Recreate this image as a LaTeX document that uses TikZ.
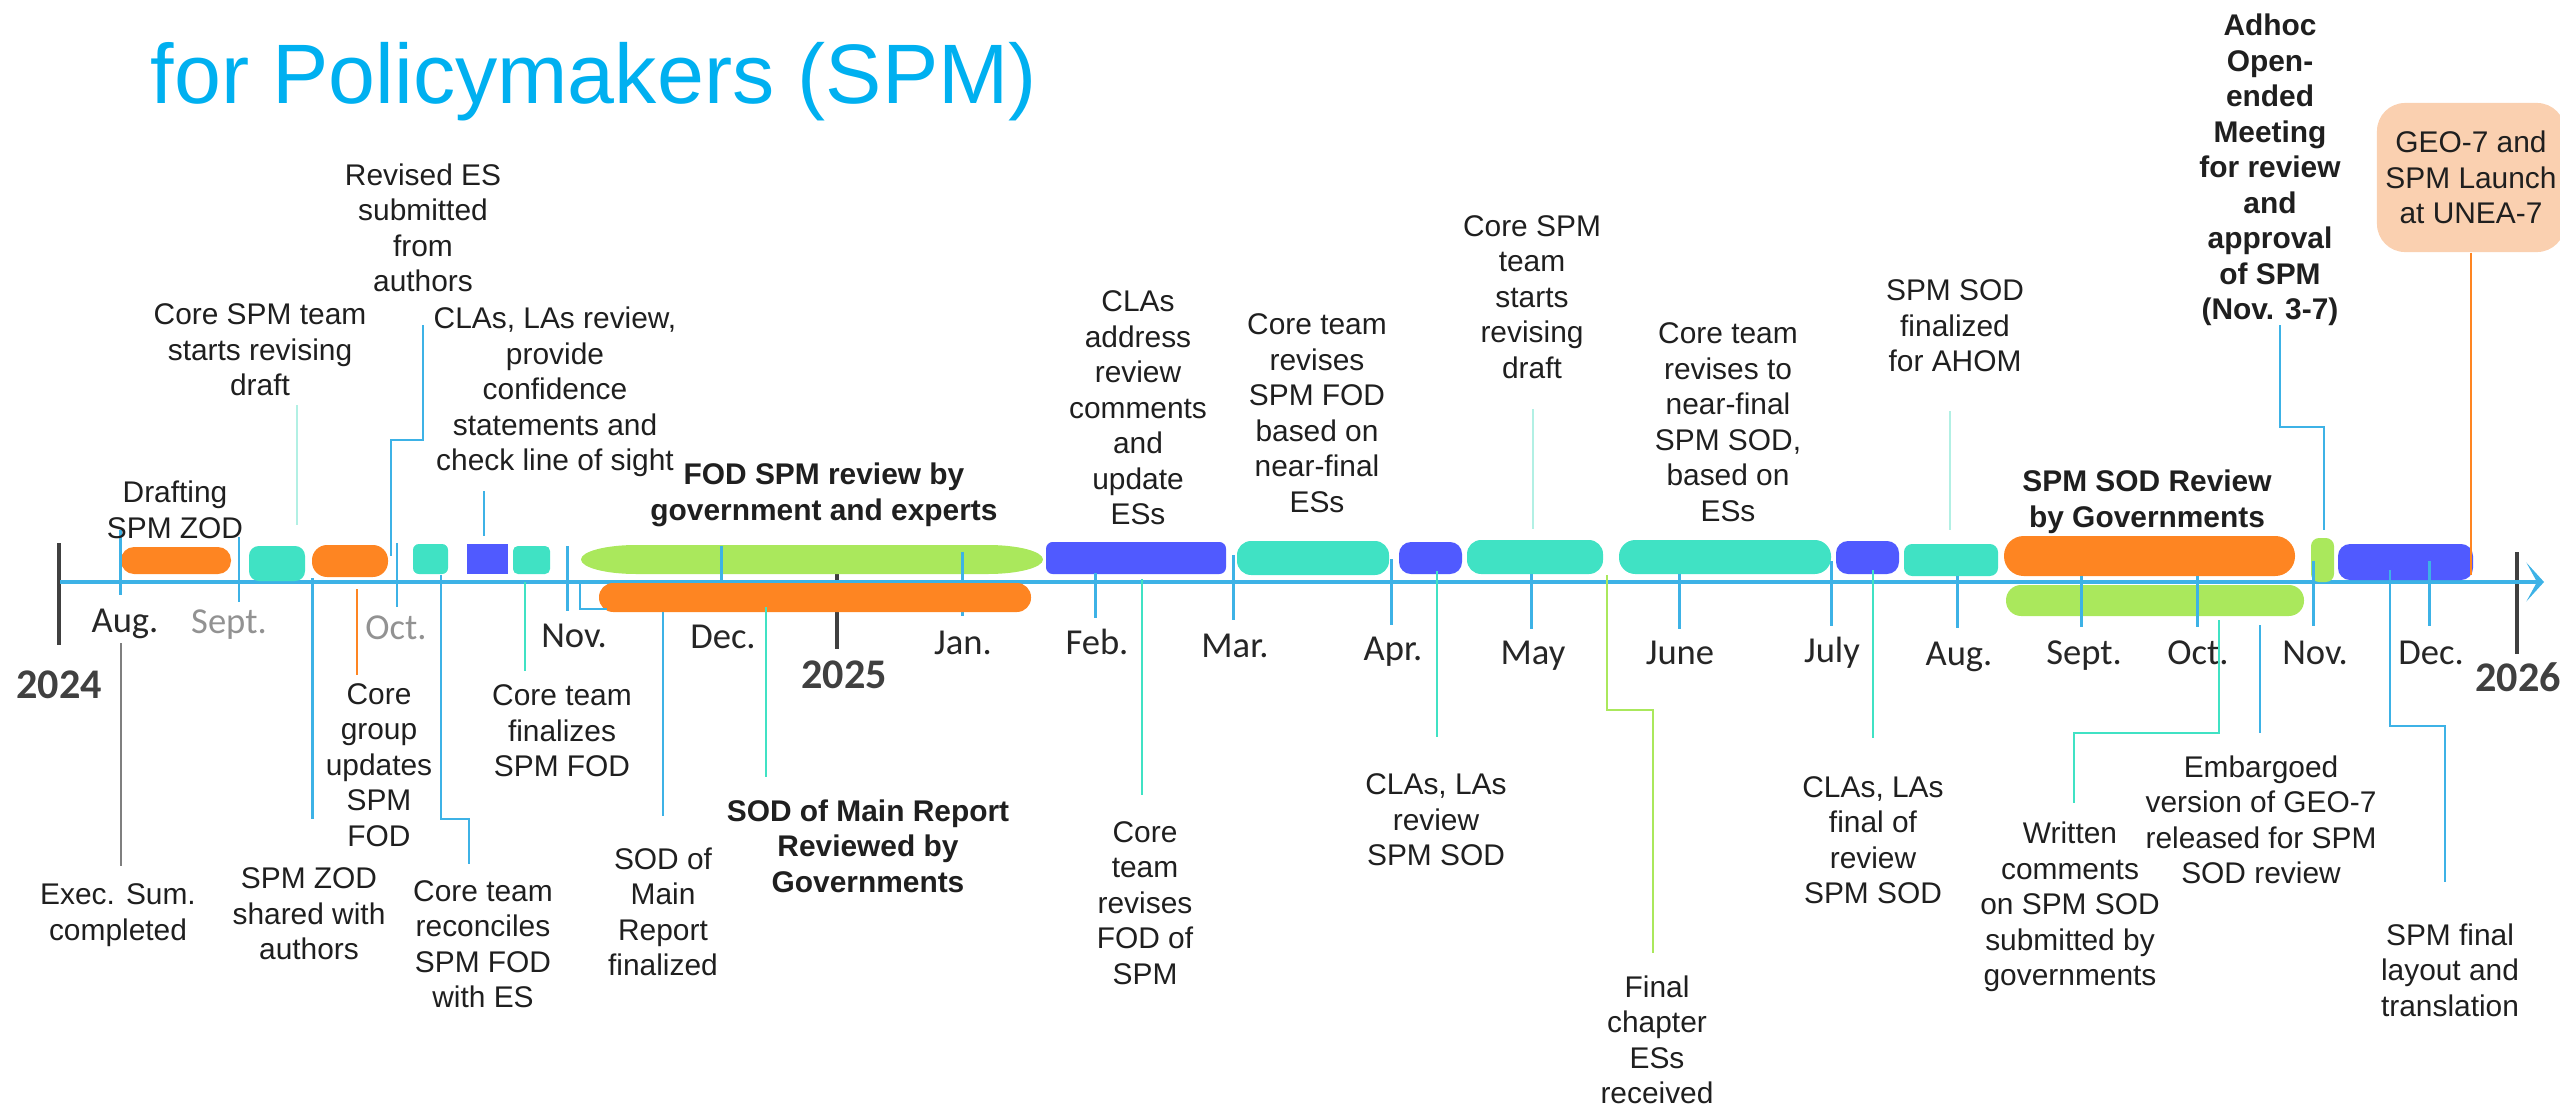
\documentclass[tikz,border=0pt]{standalone}
\usepackage{fontspec}
\setmainfont{Liberation Sans}
\newfontfamily\calfont{Carlito}
\usetikzlibrary{arrows.meta, positioning}

\definecolor{tlblue}{RGB}{61,178,230}
\definecolor{titleblue}{RGB}{0,176,240}
\definecolor{barteal}{RGB}{64,226,196}
\definecolor{lightteal}{RGB}{178,240,228}
\definecolor{barorange}{RGB}{254,133,34}
\definecolor{barblue}{RGB}{80,90,255}
\definecolor{bargreen}{RGB}{170,232,92}
\definecolor{yeargrey}{RGB}{64,64,64}
\definecolor{monthgrey}{RGB}{127,127,127}
\definecolor{geopeach}{RGB}{250,208,176}

\tikzset{
  lbl/.style={align=center, inner sep=0pt, text=black!88, font=\fontsize{8.5}{10.1}\selectfont},
  blbl/.style={lbl, font=\fontsize{8.5}{10.1}\selectfont\bfseries},
  month/.style={anchor=base, inner sep=0pt, font=\calfont\fontsize{10.4}{12}\selectfont},
  year/.style={inner sep=0pt, text=yeargrey, font=\calfont\bfseries\fontsize{12}{14}\selectfont},
  tick/.style={tlblue, line width=0.85pt},
  conn/.style={line width=0.75pt},
}

\begin{document}
\begin{tikzpicture}[x=0.01cm, y=-0.01cm]
  \newcommand\axisy{582} % all coordinates in pixels of the slide
  \useasboundingbox (0,0) rectangle (2560,1112);

  \node[anchor=base west, inner sep=0pt, text=titleblue, font=\fontsize{24}{28}\selectfont] (title) at (150,103) {for Policymakers (SPM)};

  % years
  \foreach \x/\ya/\yb in {59/543/645, 837/573/649, 2517/552/654}
    \draw[yeargrey, line width=0.9pt] (\x,\ya) -- (\x,\yb);

  \draw[tlblue, line width=1.1pt, -{Stealth[length=5pt, width=11pt, inset=3pt]}] (60,\axisy) coordinate (axstart) -- (2544,\axisy) coordinate (axend);

  % bars on the line
  \foreach \xa/\xb/\ya/\yb/\col/\rad in {
      121/231/547/574/barorange/3.7pt, 249/305/546/581/barteal/2.8pt,
      312/388/545/577/barorange/4.3pt, 413/448/544/574/barteal/1.7pt,
      467/508/544/574/barblue/0pt, 513/550/546/574/barteal/1.4pt,
      1046/1226/542/574/barblue/1.9pt, 1237/1389/541/575/barteal/4pt,
      1399/1462/542/574/barblue/3.4pt, 1467/1603/540/574/barteal/4pt,
      1619/1831/540/574/barteal/4.6pt, 1836/1899/541/574/barblue/3.4pt,
      1904/1998/544/576/barteal/2.3pt, 2004/2295/536/576/barorange/5.6pt,
      2006/2304/585/616/bargreen/4.3pt, 2311/2334/538/582/bargreen/2.3pt,
      2338/2473/544/580/barblue/3.4pt}
    \fill[\col, rounded corners=\rad] (\xa,\ya) rectangle (\xb,\yb);
  \fill[bargreen] (636,545) -- (988,545) .. controls (1018.4,545) and (1043,551.5) .. (1043,559.5)
    .. controls (1043,567.5) and (1018.4,574) .. (988,574) -- (636,574)
    .. controls (605.6,574) and (581,567.5) .. (581,559.5)
    .. controls (581,551.5) and (605.6,545) .. (636,545) -- cycle;

  % month ticks
  \foreach \x/\ya/\yb in {120.5/530/595, 239/537/602, 397/543/607, 567/546/611, 721/546/582,
      962/552/616, 1095/573/618, 1233/555/620, 1391/559/625, 1531/574/629, 1679/574/629,
      1831/561/626, 1957/576/628, 2081/576/627, 2197/576/627, 2313/561/626, 2429/561/626}
    \draw[tick] (\x,\ya) -- (\x,\yb);

  \fill[barorange, rounded corners=4pt] (599,583) rectangle (1031,612);

  \foreach \x/\y/\m/\c [count=\i] in {125/632/Aug./black, 229/633/Sept./monthgrey, 396/639/Oct./monthgrey,
      574/647/Nov./black, 723/648/Dec./black, 963/654/Jan./black, 1097/654/Feb./black,
      1235/657/Mar./black, 1393/660/Apr./black, 1533/664/May/black, 1680/664/June/black,
      1832/662/July/black, 1959/665/Aug./black, 2084/664/Sept./black, 2198/664/Oct./black,
      2315/664/Nov./black, 2431/664/Dec./black}
    \node[month, text=\c!85] (m\i) at (\x,\y) {\m};

  \node[year] (y2024) at (59,685) {2024};
  \node[year] (y2025) at (844,675) {2025};
  \node[year] (y2026) at (2518,677) {2026};

  % straight connectors
  \foreach \x/\ya/\yb/\col [count=\i] in {121/643/866/monthgrey, 297/405/525/lightteal, 484/491/536/tlblue,
      1533/409/529/lightteal, 1950/411/530/lightteal, 312.5/578/819/tlblue, 357/589/675/barorange,
      525/582/671/barteal, 663/612/816/tlblue, 766/607/777/barteal, 1142/579/795/barteal,
      1437/571/737/barteal, 1873/570/738/barteal, 2260/625/733/tlblue}
    \draw[conn, \col] (\x,\ya) coordinate (c\i-a) -- (\x,\yb) coordinate (c\i-b);

  % elbow connectors
  \draw[conn, tlblue] (423,325) coordinate (e1-a) |- (391,440) -- (391,556) coordinate (e1-b);
  \draw[conn, tlblue] (441,575) coordinate (e2-a) |- (469,819) -- (469,864) coordinate (e2-b);
  \draw[conn, tlblue] (580,\axisy) coordinate (e3-a) |- (607,609) coordinate (e3-b);
  \draw[conn, bargreen] (1607,575) coordinate (e4-a) |- (1653,710) -- (1653,953) coordinate (e4-b);
  \draw[conn, barteal] (2219,620) coordinate (e5-a) |- (2074,733) -- (2074,803) coordinate (e5-b);
  \draw[conn, tlblue] (2390,570) coordinate (e6-a) |- (2445,726) -- (2445,882) coordinate (e6-b);
  \draw[conn, tlblue] (2280,325) coordinate (e7-a) |- (2324,427) -- (2324,530) coordinate (e7-b);

  % above the line
  \node[lbl] (zod) at (175,510) {Drafting\\SPM ZOD};
  \node[lbl] (revdraft) at (260,350) {Core SPM team\\starts revising\\draft};
  \node[lbl] (reves) at (423,228) {Revised ES\\submitted\\from\\authors};
  \node[lbl] (clarev) at (555,392) {CLAs, LAs review,\\provide\\confidence\\statements and\\check line of sight};
  \node[blbl] (fodrev) at (824,495) {FOD SPM review by\\government and experts};
  \node[lbl] (claaddr) at (1138,408) {CLAs\\address\\review\\comments\\and\\update\\ESs};
  \node[lbl] (revfod) at (1317,413) {Core team\\revises\\SPM FOD\\based on\\near-final\\ESs};
  \node[lbl] (revdraft2) at (1532,297) {Core SPM\\team\\starts\\revising\\draft};
  \node[lbl] (revsod) at (1728,422) {Core team\\revises to\\near-final\\SPM SOD,\\based on\\ESs};
  \node[lbl] (sodfinal) at (1955,326) {SPM SOD\\finalized\\for AHOM};
  \node[blbl] (sodrev) at (2147,502) {SPM SOD Review\\by Governments};
  \node[blbl] (ahom) at (2270,170) {Adhoc\\Open-\\ended\\Meeting\\for review\\and\\approval\\of SPM\\(Nov. 3-7)};

  % below the line
  \node[lbl] (execsum) at (118,915) {Exec. Sum.\\completed};
  \node[lbl] (zodshared) at (309,914) {SPM ZOD\\shared with\\authors};
  \node[lbl] (grpupd) at (379,765) {Core\\group\\updates\\SPM\\FOD};
  \node[lbl] (reconcile) at (483,944) {Core team\\reconciles\\SPM FOD\\with ES};
  \node[lbl] (finfod) at (562,731) {Core team\\finalizes\\SPM FOD};
  \node[lbl] (mainfinal) at (663,912) {SOD of\\Main\\Report\\finalized};
  \node[blbl] (mainrev) at (868,846) {SOD of Main Report\\Reviewed by\\Governments};
  \node[lbl] (revfodspm) at (1145,903) {Core\\team\\revises\\FOD of\\SPM};
  \node[lbl] (clasod) at (1436,820) {CLAs, LAs\\review\\SPM SOD};
  \node[lbl] (finales) at (1657,1040) {Final\\chapter\\ESs\\received};
  \node[lbl] (clafinal) at (1873,840) {CLAs, LAs\\final of\\review\\SPM SOD};
  \node[lbl] (written) at (2070,907) {Written\\comments\\on SPM SOD\\submitted by\\governments};
  \node[lbl] (embargo) at (2261,820) {Embargoed\\version of GEO-7\\released for SPM\\SOD review};
  \node[lbl] (layout) at (2450,970) {SPM final\\layout and\\translation};

  \node[lbl, fill=geopeach, rounded corners=8pt, minimum width=1.88cm, minimum height=1.49cm] (geo) at (2471,177.5) {GEO-7 and\\SPM Launch\\at UNEA-7};
  \draw[line width=0.6pt, barorange] (geo.south) -- (geo.south |- 2475,575) coordinate (geo-end);
\end{tikzpicture}
\end{document}
